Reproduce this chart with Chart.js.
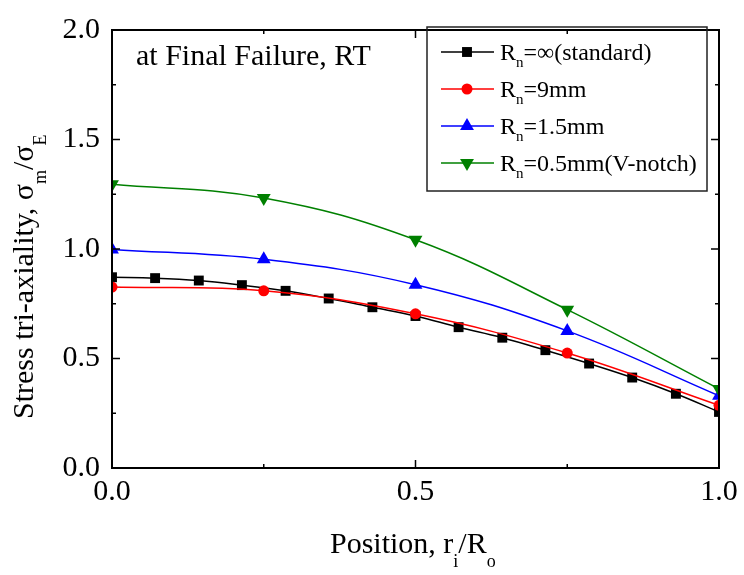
<!DOCTYPE html>
<html>
<head>
<meta charset="utf-8">
<script src="https://cdn.jsdelivr.net/npm/chart.js@4/dist/chart.umd.min.js"></script>
<style>
  html, body { margin: 0; padding: 0; background: #ffffff; }
  #wrap { width: 744px; height: 575px; }
</style>
</head>
<body>
<div id="wrap"><canvas id="c" width="744" height="575"></canvas></div>
<script>
// Radial position r_i/R_o of the sampled points
const posStandard = [0, 0.071, 0.143, 0.214, 0.286, 0.357, 0.429, 0.5, 0.571, 0.643, 0.714, 0.786, 0.857, 0.929, 1.0];
const posNotched = [0, 0.25, 0.5, 0.75, 1.0];

// Stress tri-axiality sigma_m / sigma_E at final failure, room temperature
const triStandard = [0.871, 0.867, 0.856, 0.835, 0.809, 0.774, 0.734, 0.694, 0.643, 0.595, 0.538, 0.477, 0.413, 0.339, 0.256];
const tri9mm = [0.826, 0.809, 0.704, 0.525, 0.286];
const tri1p5mm = [0.998, 0.953, 0.837, 0.626, 0.330];
const tri0p5mm = [1.296, 1.233, 1.042, 0.723, 0.361];

// Axis ticks
const xMajorTicks = [0, 0.5, 1.0];
const xMinorTicks = [0.25, 0.75];
const yMajorTicks = [0, 0.5, 1.0, 1.5, 2.0];
const yMinorTicks = [0.25, 0.75, 1.25, 1.75];

// Legend entries: main text, subscript, remainder
const legendRows = [
  { pre: 'R', sub: 'n', post: '=\u221E(standard)' },
  { pre: 'R', sub: 'n', post: '=9mm' },
  { pre: 'R', sub: 'n', post: '=1.5mm' },
  { pre: 'R', sub: 'n', post: '=0.5mm(V-notch)' }
];

const SERIF = '"Liberation Serif", "Times New Roman", Times, serif';
const series = [
  { xs: posStandard, ys: triStandard, color: '#000000', shape: 'square', style: 'rect', radius: 7, rotation: 0, order: 4 },
  { xs: posNotched, ys: tri9mm, color: '#ff0000', shape: 'circle', style: 'circle', radius: 5.5, rotation: 0, order: 3 },
  { xs: posNotched, ys: tri1p5mm, color: '#0000ff', shape: 'up', style: 'triangle', radius: 8, rotation: 0, order: 2 },
  { xs: posNotched, ys: tri0p5mm, color: '#008000', shape: 'down', style: 'triangle', radius: 8, rotation: 180, order: 1 }
];

function toPoints(xs, ys) { return xs.map((x, i) => ({ x: x, y: ys[i] })); }

// Draw a run of text pieces along a baseline, some of them lowered as subscripts
function drawRun(ctx, x, y, pieces) {
  let cx = x;
  pieces.forEach(p => {
    ctx.font = p.size + 'px ' + SERIF;
    ctx.fillText(p.t, cx, y + (p.dy || 0));
    cx += ctx.measureText(p.t).width;
  });
  return cx;
}

function drawMarker(ctx, shape, x, y, r, color) {
  ctx.save();
  ctx.fillStyle = color;
  ctx.beginPath();
  if (shape === 'square') {
    const s = Math.SQRT1_2 * r;
    ctx.rect(x - s, y - s, 2 * s, 2 * s);
  } else if (shape === 'circle') {
    ctx.arc(x, y, r, 0, Math.PI * 2);
  } else if (shape === 'up') {
    ctx.moveTo(x, y - r);
    ctx.lineTo(x + r * 0.866, y + r / 2);
    ctx.lineTo(x - r * 0.866, y + r / 2);
  } else {
    ctx.moveTo(x, y + r);
    ctx.lineTo(x + r * 0.866, y - r / 2);
    ctx.lineTo(x - r * 0.866, y - r / 2);
  }
  ctx.closePath();
  ctx.fill();
  ctx.restore();
}

const decorations = {
  id: 'decorations',
  beforeDraw(chart) {
    const ctx = chart.ctx;
    ctx.save();
    ctx.fillStyle = '#ffffff';
    ctx.fillRect(0, 0, chart.width, chart.height);
    ctx.restore();
  },
  afterDatasetsDraw(chart) {
    const ctx = chart.ctx;
    const xs = chart.scales.x, ys = chart.scales.y;
    const a = chart.chartArea;
    ctx.save();
    // frame
    ctx.strokeStyle = '#000000';
    ctx.lineWidth = 2;
    ctx.strokeRect(a.left, a.top, a.right - a.left, a.bottom - a.top);
    // inward ticks on all four sides
    ctx.lineWidth = 1.5;
    ctx.beginPath();
    const xt = (vals, len) => vals.forEach(v => {
      const px = xs.getPixelForValue(v);
      ctx.moveTo(px, a.bottom); ctx.lineTo(px, a.bottom - len);
      ctx.moveTo(px, a.top); ctx.lineTo(px, a.top + len);
    });
    const yt = (vals, len) => vals.forEach(v => {
      const py = ys.getPixelForValue(v);
      ctx.moveTo(a.left, py); ctx.lineTo(a.left + len, py);
      ctx.moveTo(a.right, py); ctx.lineTo(a.right - len, py);
    });
    xt(xMajorTicks, 8); xt(xMinorTicks, 4);
    yt(yMajorTicks, 8); yt(yMinorTicks, 4);
    ctx.stroke();
    ctx.restore();
  },
  afterDraw(chart) {
    const ctx = chart.ctx;
    ctx.save();
    ctx.fillStyle = '#000000';
    ctx.textBaseline = 'alphabetic';
    ctx.textAlign = 'left';

    // panel note
    ctx.font = '30px ' + SERIF;
    ctx.fillText('at Final Failure, RT', 136, 65);

    // x-axis title
    drawRun(ctx, 330, 553, [
      { t: 'Position, r', size: 30 },
      { t: 'i', size: 18, dy: 14 },
      { t: '/R', size: 30 },
      { t: 'o', size: 18, dy: 14 }
    ]);

    // y-axis title (rotated)
    ctx.save();
    ctx.translate(33, 419);
    ctx.rotate(-Math.PI / 2);
    drawRun(ctx, 0, 0, [
      { t: 'Stress tri-axiality, \u03C3', size: 30 },
      { t: 'm', size: 18, dy: 13 },
      { t: '/\u03C3', size: 30 },
      { t: 'E', size: 18, dy: 13 }
    ]);
    ctx.restore();

    // legend
    ctx.strokeStyle = '#222222';
    ctx.lineWidth = 1.5;
    ctx.strokeRect(427, 27, 280, 164);
    legendRows.forEach((row, i) => {
      const s = series[i];
      const cy = 52 + i * 37;
      ctx.strokeStyle = s.color;
      ctx.lineWidth = 1.5;
      ctx.beginPath();
      ctx.moveTo(441, cy); ctx.lineTo(494, cy);
      ctx.stroke();
      drawMarker(ctx, s.shape, 467, cy, s.radius, s.color);
      ctx.fillStyle = '#000000';
      drawRun(ctx, 500, cy + 8, [
        { t: row.pre, size: 24 },
        { t: row.sub, size: 15, dy: 7 },
        { t: row.post, size: 24 }
      ]);
    });
    ctx.restore();
  }
};

new Chart(document.getElementById('c'), {
  type: 'line',
  data: {
    datasets: series.map(s => ({
      data: toPoints(s.xs, s.ys),
      borderColor: s.color,
      backgroundColor: s.color,
      borderWidth: 1.5,
      pointStyle: s.style,
      pointRadius: s.radius,
      pointRotation: s.rotation,
      pointBorderWidth: 0,
      pointBackgroundColor: s.color,
      tension: 0.4,
      fill: false,
      order: s.order
    }))
  },
  options: {
    responsive: false,
    animation: false,
    events: [],
    layout: { padding: { left: 0, right: 25, top: 21, bottom: 0 } },
    plugins: { legend: { display: false }, tooltip: { enabled: false } },
    scales: {
      x: {
        type: 'linear',
        min: 0, max: 1,
        grid: { display: false, drawTicks: false },
        border: { display: false },
        ticks: {
          stepSize: 0.5,
          padding: 6,
          color: '#000000',
          font: { family: SERIF, size: 30 },
          maxRotation: 0,
          callback: v => v.toFixed(1)
        },
        afterFit: scale => { scale.height = 107; }
      },
      y: {
        type: 'linear',
        min: 0, max: 2,
        grid: { display: false, drawTicks: false },
        border: { display: false },
        ticks: {
          stepSize: 0.5,
          padding: 12,
          color: '#000000',
          font: { family: SERIF, size: 30 },
          callback: v => v.toFixed(1)
        },
        afterFit: scale => { scale.width = 112; }
      }
    }
  },
  plugins: [decorations]
});
</script>
</body>
</html>
